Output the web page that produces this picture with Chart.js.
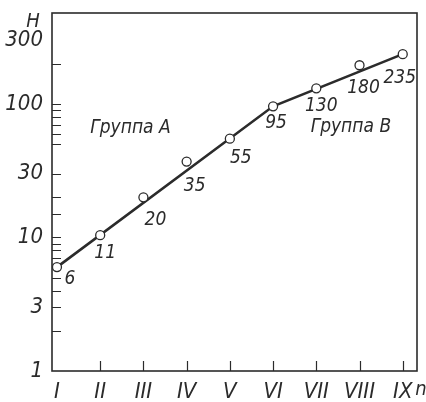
<!DOCTYPE html>
<html>
<head>
<meta charset="utf-8">
<script src="https://cdn.jsdelivr.net/npm/chart.js@4"></script>
<style>
  html, body { margin: 0; background: #fff; }
  #wrap { width: 426px; height: 402px; }
</style>
</head>
<body>
<div id="wrap"><canvas id="chart"></canvas></div>
<script>
// data
const stages = [1, 2, 3, 4, 5, 6, 7, 8, 9];
const stageNames = ["I", "II", "III", "IV", "V", "VI", "VII", "VIII", "IX"];
const pointValues = [6, 10.4, 20, 37, 55, 96, 131, 195, 236];
const pointLabels = ["6", "11", "20", "35", "55", "95", "130", "180", "235"];
// broken fitted line: group A (I-VI) and group B (VI-IX)
const fitStages = [1, 6, 9];
const fitValues = [6, 96, 236];
const yTickValues = [1, 3, 10, 30, 100, 300];
const yMinorTicks = [2, 3, 4, 5, 6, 7, 8, 9, 10, 15, 20, 30, 50, 60, 70, 80, 90, 100, 200];
const groupNames = ["Группа А", "Группа В"];

const ink = "#2b2b2b";
const fam = "'Liberation Sans Narrow', 'DejaVu Sans Condensed', 'DejaVu Sans', sans-serif";

const decor = {
  id: "decor",
  beforeDatasetsDraw(chart) {
    const { ctx, chartArea: a, scales: { x, y } } = chart;
    ctx.save();
    ctx.strokeStyle = ink;
    ctx.lineWidth = 1.6;
    ctx.strokeRect(a.left, a.top, a.right - a.left, a.bottom - a.top);
    ctx.lineWidth = 1.2;
    ctx.beginPath();
    yMinorTicks.forEach(v => {
      const py = Math.round(y.getPixelForValue(v)) + 0.5;
      ctx.moveTo(a.left, py);
      ctx.lineTo(a.left + 9, py);
    });
    stages.slice(1).forEach(v => {
      const px = Math.round(x.getPixelForValue(v)) + 0.5;
      ctx.moveTo(px, a.bottom);
      ctx.lineTo(px, a.bottom - 10);
    });
    ctx.stroke();
    ctx.restore();
  },
  afterDatasetsDraw(chart, args, opts) {
    const { ctx, chartArea: a, scales: { x, y } } = chart;
    ctx.save();
    ctx.fillStyle = ink;
    ctx.textAlign = "center";
    ctx.textBaseline = "middle";
    ctx.font = "italic 19px " + fam;
    pointLabels.forEach((t, i) => {
      const [dx, dy] = opts.offsets[i];
      ctx.fillText(t, x.getPixelForValue(stages[i]) + dx, y.getPixelForValue(pointValues[i]) + dy);
    });
    groupNames.forEach((t, i) => {
      const g = opts.groups[i];
      ctx.fillText(t, x.getPixelForValue(g.x), y.getPixelForValue(g.y));
    });
    ctx.font = "italic 20px " + fam;
    ctx.fillText("H", a.left - 19, a.top + 9);
    ctx.fillText("n", a.right + 4, a.bottom + 19);
    ctx.restore();
  }
};

const chart = new Chart(document.getElementById("chart"), {
  type: "scatter",
  data: {
    datasets: [
      {
        data: stages.map((s, i) => ({ x: s, y: pointValues[i] })),
        showLine: false,
        pointRadius: 4.5,
        pointBackgroundColor: "#fff",
        pointBorderColor: ink,
        pointBorderWidth: 1.3
      },
      {
        data: fitStages.map((s, i) => ({ x: s, y: fitValues[i] })),
        showLine: true,
        borderColor: ink,
        borderWidth: 2.6,
        pointRadius: 0
      }
    ]
  },
  options: {
    responsive: true,
    maintainAspectRatio: false,
    animation: false,
    devicePixelRatio: 1,
    layout: { padding: { top: 13, right: 9, left: 0, bottom: 0 } },
    plugins: {
      legend: { display: false },
      tooltip: { enabled: false },
      decor: {
        offsets: [[13, 12], [5, 18], [12, 23], [8, 24], [11, 19], [3, 17], [5, 18], [4, 23], [-3, 24]],
        groups: [{ x: 2.7, y: 66 }, { x: 7.8, y: 67 }]
      }
    },
    scales: {
      x: {
        type: "linear",
        min: 0.885,
        max: 9.33,
        afterBuildTicks: s => { s.ticks = stages.map(v => ({ value: v })); },
        afterFit: s => { s.height = 31; s.paddingLeft = 0; s.paddingRight = 0; },
        grid: { display: false, drawTicks: false },
        border: { display: false },
        ticks: {
          autoSkip: false,
          maxRotation: 0,
          padding: 8,
          color: ink,
          font: { family: fam, size: 22, style: "italic" },
          callback: v => stageNames[v - 1]
        }
      },
      y: {
        type: "logarithmic",
        min: 1,
        max: 480,
        afterBuildTicks: s => { s.ticks = yTickValues.map(v => ({ value: v })); },
        afterFit: s => { s.width = 52; s.paddingTop = 0; s.paddingBottom = 0; },
        grid: { display: false, drawTicks: false },
        border: { display: false },
        ticks: {
          autoSkip: false,
          padding: 9,
          color: ink,
          font: { family: fam, size: 22, style: "italic" },
          callback: v => String(v)
        }
      }
    }
  },
  plugins: [decor]
});
</script>
</body>
</html>
